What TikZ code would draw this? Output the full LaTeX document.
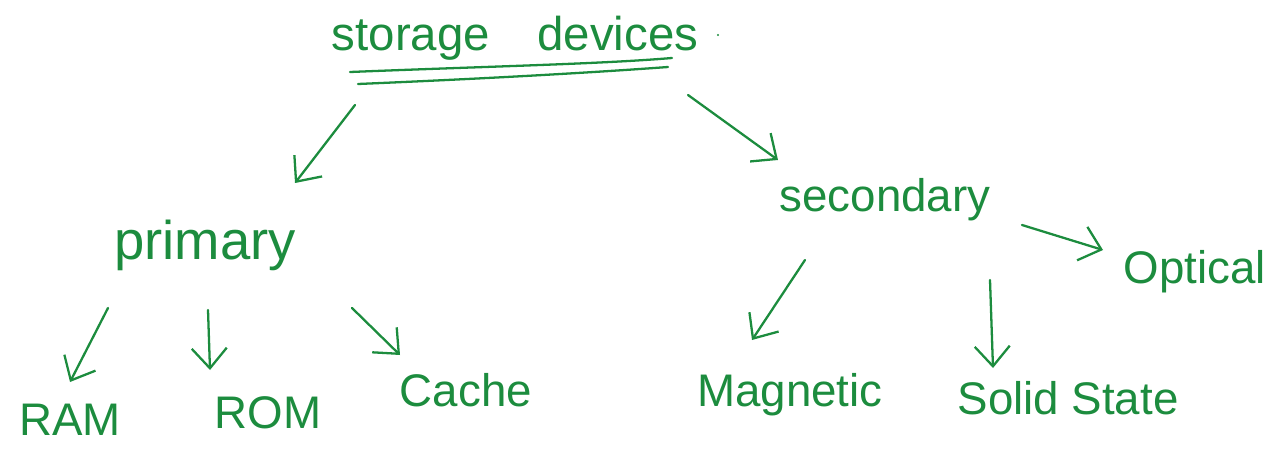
\documentclass[tikz,border=0pt]{standalone}
\usepackage{fontspec}
\setmainfont{Liberation Sans}
\usetikzlibrary{arrows.meta}
\definecolor{ink}{RGB}{28,140,62}
\begin{document}
\begin{tikzpicture}[x=0.02cm,y=-0.02cm,
  lbl/.style={text=ink,font=\fontsize{26}{30}\selectfont,inner sep=0pt},
  arr/.style={draw=ink,line width=1.3pt,line cap=round,-{Straight Barb[length=4mm,width=7mm]}},
  pen/.style={draw=ink,line width=1.3pt,line cap=round}]
\useasboundingbox (0,0) rectangle (1285,476);
% nodes
\node[lbl,font=\fontsize{27}{30}\selectfont] (storage) at (515,38) {storage\quad devices};
\node[lbl,font=\fontsize{31}{34}\selectfont] (primary) at (205,245) {primary};
\node[lbl] (secondary) at (885,200) {secondary};
\node[lbl] (ram) at (70,420) {RAM};
\node[lbl] (rom) at (268,413) {ROM};
\node[lbl] (cache) at (466,390) {Cache};
\node[lbl] (magnetic) at (790,395) {Magnetic};
\node[lbl] (solid) at (1068,398) {Solid State};
\node[lbl] (optical) at (1195,272) {Optical};
% underline and dot
\draw[pen] (350,72) .. controls (500,66) and (600,64) .. (672,58);
\draw[pen] (358,84) .. controls (500,78) and (600,72) .. (668,67);
\fill[ink] (718,35) circle (1.2);
% connector coordinates
\coordinate (s1) at (355,105); \coordinate (p0) at (295,183);
\coordinate (s2) at (688,95);  \coordinate (q0) at (778,160);
\coordinate (p1) at (108,308); \coordinate (r0) at (70,382);
\coordinate (p2) at (208,310); \coordinate (o0) at (210,370);
\coordinate (p3) at (352,308); \coordinate (c0) at (400,355);
\coordinate (q1) at (805,260); \coordinate (m0) at (752,340);
\coordinate (q2) at (990,280); \coordinate (t0) at (993,368);
\coordinate (q3) at (1022,225); \coordinate (x0) at (1103,250);
\draw[arr] (s1) -- (p0);
\draw[arr] (s2) -- (q0);
\draw[arr] (p1) -- (r0);
\draw[arr] (p2) -- (o0);
\draw[arr] (p3) -- (c0);
\draw[arr] (q1) -- (m0);
\draw[arr] (q2) -- (t0);
\draw[arr] (q3) -- (x0);
\end{tikzpicture}
\end{document}
